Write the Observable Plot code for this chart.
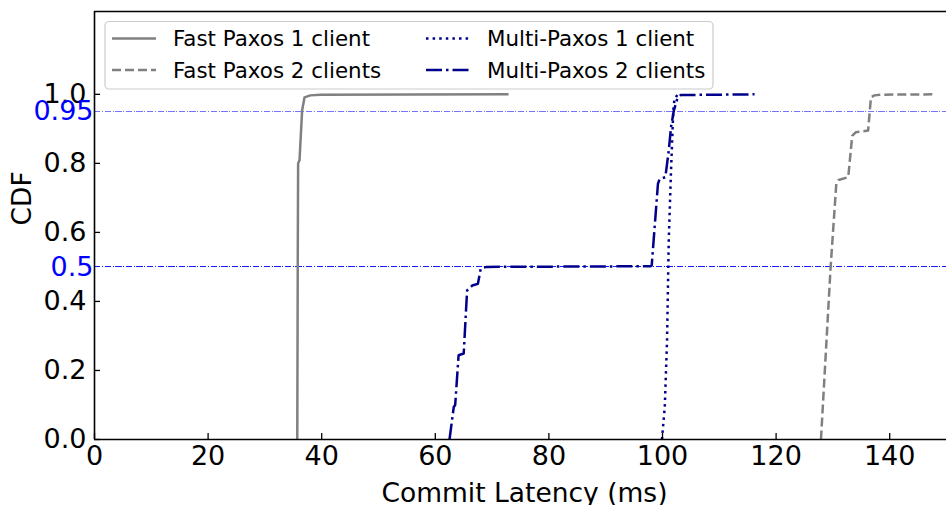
<!DOCTYPE html>
<html>
<head>
<meta charset="utf-8">
<script src="https://cdn.jsdelivr.net/npm/d3@7"></script>
<script src="https://cdn.jsdelivr.net/npm/@observablehq/plot@0.6"></script>
<style>
  body { margin: 0; background: #fff; }
  #chart { width: 947px; height: 505px; }
</style>
</head>
<body>
<div id="chart"></div>
<script>
// Commit latency CDFs (latency in ms, cumulative fraction)
const fastPaxos1Latency = [35.7, 35.8, 35.85, 36.1, 36.55, 36.97, 38.0, 39.8, 72.9];
const fastPaxos1Cdf     = [0.0, 0.6, 0.8, 0.81, 0.953, 0.991, 0.997, 0.999, 1.0];

const fastPaxos2Latency = [127.9, 129.6, 130.6, 131.0, 132.7, 133.4, 134.0, 136.2, 136.7, 137.3, 138.4, 147.8];
const fastPaxos2Cdf     = [0.0, 0.5, 0.741, 0.752, 0.760, 0.880, 0.890, 0.895, 0.991, 0.997, 0.999, 1.0];

const multiPaxos1Latency = [99.9, 100.4, 100.8, 101.1, 101.5, 101.9, 102.1, 102.6];
const multiPaxos1Cdf     = [0.0, 0.094, 0.287, 0.577, 0.779, 0.953, 0.985, 0.998];

const multiPaxos2Latency = [62.5, 63.25, 63.5, 64.1, 65.0, 65.6, 66.5, 67.5, 68.0, 69.0, 97.9, 98.1, 99.2, 99.5, 100.5, 101.1, 101.5, 102.0, 102.6, 103.2, 116.2];
const multiPaxos2Cdf     = [0.0, 0.094, 0.10, 0.244, 0.249, 0.432, 0.446, 0.451, 0.495, 0.50, 0.502, 0.504, 0.741, 0.755, 0.760, 0.837, 0.905, 0.953, 0.987, 0.998, 1.0];

const seriesNames = ["Fast Paxos 1 client", "Fast Paxos 2 clients", "Multi-Paxos 1 client", "Multi-Paxos 2 clients"];
const xTicks = [0, 20, 40, 60, 80, 100, 120, 140];
const yTicks = [0, 0.2, 0.4, 0.6, 0.8, 1.0];
const medianLevel = [0.5];
const tailLevel = [0.95];

const toRows = (xs, ys) => xs.map((x, i) => ({latency: x, cdf: ys[i]}));

// Layout
const W = 947, H = 505;
const mL = 94, mR = 1, mT = 11, mB = 66;
const frameW = W - mL - mR, frameH = H - mT - mB;
const xMax = 150, yMax = 1.24;

const styles = [
  {stroke: "#808080", dash: null},
  {stroke: "#808080", dash: "9,4"},
  {stroke: "#00008b", dash: "2.5,4.1"},
  {stroke: "#00008b", dash: "16,4,2.5,4"}
];
const series = [
  toRows(fastPaxos1Latency, fastPaxos1Cdf),
  toRows(fastPaxos2Latency, fastPaxos2Cdf),
  toRows(multiPaxos1Latency, multiPaxos1Cdf),
  toRows(multiPaxos2Latency, multiPaxos2Cdf)
];
const levelDash = "6.4,1.6,1,1.6";

const chart = Plot.plot({
  width: W,
  height: H,
  marginLeft: mL,
  marginRight: mR,
  marginTop: mT,
  marginBottom: mB,
  style: {fontFamily: "DejaVu Sans", fontSize: "27px", background: "white", color: "black", overflow: "visible"},
  x: {domain: [0, xMax]},
  y: {domain: [0, yMax]},
  marks: [
    // reference levels
    Plot.ruleY(tailLevel, {stroke: "#7474ff", strokeWidth: 1.4, strokeDasharray: levelDash, shapeRendering: "crispEdges"}),
    Plot.ruleY(medianLevel, {stroke: "#1a1aff", strokeWidth: 1, strokeDasharray: levelDash, shapeRendering: "crispEdges"}),
    // CDF curves
    ...series.map((rows, i) => Plot.line(rows, {
      x: "latency", y: "cdf",
      stroke: styles[i].stroke, strokeWidth: 2.5,
      strokeDasharray: styles[i].dash, strokeLinecap: "butt", strokeLinejoin: "round"
    })),
    // spines
    Plot.ruleX([0], {stroke: "black", strokeWidth: 1.6}),
    Plot.ruleY([0], {stroke: "black", strokeWidth: 1.6}),
    Plot.ruleY([yMax], {stroke: "black", strokeWidth: 1.6}),
    // inward tick marks
    Plot.ruleX(xTicks, {x: d => d, insetTop: frameH - 6, stroke: "black", strokeWidth: 1.3}),
    Plot.ruleY(yTicks, {y: d => d, insetRight: frameW - 6, stroke: "black", strokeWidth: 1.3}),
    // tick labels
    Plot.axisX(xTicks, {tickSize: 0, tickPadding: 6, tickFormat: d => String(d), label: null}),
    Plot.axisY(yTicks, {tickSize: 0, tickPadding: 8, tickFormat: d3.format(".1f"), label: null}),
    Plot.axisY([...medianLevel, ...tailLevel], {tickSize: 0, tickPadding: 1, tickFormat: d => String(d), color: "#0000ff", label: null}),
    // axis titles
    Plot.text(["Commit Latency (ms)"], {frameAnchor: "bottom", dx: 4, dy: 62, lineAnchor: "bottom", fontSize: 26.5}),
    Plot.text(["CDF"], {frameAnchor: "left", dx: -72, rotate: -90, fontSize: 26.5})
  ]
});

document.getElementById("chart").appendChild(chart);

// Legend inside the top-left of the axes
const svg = d3.select(chart);
const legend = svg.append("g")
  .attr("font-family", "DejaVu Sans").attr("font-size", 21.4).attr("text-anchor", "start");
legend.append("rect")
  .attr("x", 105).attr("y", 21.5).attr("width", 608).attr("height", 67.5)
  .attr("rx", 4).attr("fill", "white").attr("fill-opacity", 0.8)
  .attr("stroke", "#cccccc").attr("stroke-width", 1.2);
const colX = [112, 426], rowY = [38.5, 70];
seriesNames.forEach((name, i) => {
  const cx = colX[Math.floor(i / 2)], cy = rowY[i % 2];
  legend.append("line")
    .attr("x1", cx).attr("x2", cx + 44).attr("y1", cy).attr("y2", cy)
    .attr("stroke", styles[i].stroke).attr("stroke-width", 2.5)
    .attr("stroke-dasharray", styles[i].dash);
  legend.append("text")
    .attr("x", cx + 61).attr("y", cy).attr("dy", "0.36em")
    .attr("fill", "black").text(name);
});
</script>
</body>
</html>
